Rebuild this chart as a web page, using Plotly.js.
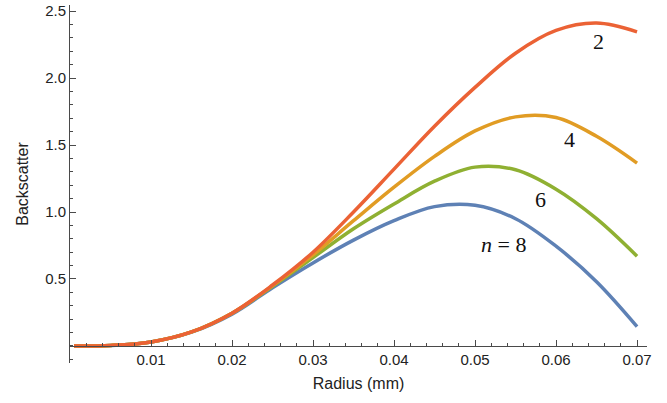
<!DOCTYPE html>
<html>
<head>
<meta charset="utf-8">
<script src="https://cdn.plot.ly/plotly-3.0.1.min.js"></script>
<style>html,body{margin:0;padding:0;background:#fff;}#chart{width:667px;height:403px;}</style>
</head>
<body>
<div id="chart"></div>
<script>
// Radius (mm) and backscatter for each n
const radius = [0.0005, 0.005, 0.01, 0.015, 0.02, 0.025, 0.03, 0.035, 0.04, 0.045, 0.05, 0.055, 0.06, 0.065, 0.07];
const n2 = [0.0, 0.004, 0.03, 0.105, 0.245, 0.455, 0.70, 1.00, 1.32, 1.64, 1.93, 2.185, 2.355, 2.41, 2.345];
const n4 = [0.0, 0.004, 0.03, 0.105, 0.245, 0.45, 0.68, 0.935, 1.185, 1.415, 1.605, 1.71, 1.705, 1.565, 1.365];
const n6 = [0.0, 0.004, 0.03, 0.105, 0.245, 0.445, 0.66, 0.875, 1.06, 1.23, 1.335, 1.315, 1.17, 0.95, 0.67];
const n8 = [0.0, 0.004, 0.03, 0.103, 0.238, 0.435, 0.62, 0.79, 0.935, 1.04, 1.05, 0.95, 0.745, 0.48, 0.145];

const xTickVals = [0.01, 0.02, 0.03, 0.04, 0.05, 0.06, 0.07];
const xTickText = ["0.01", "0.02", "0.03", "0.04", "0.05", "0.06", "0.07"];
const yTickVals = [0.5, 1.0, 1.5, 2.0, 2.5];
const yTickText = ["0.5", "1.0", "1.5", "2.0", "2.5"];

const labelText = ["2", "4", "6", "<i>n</i> = 8"];
const labelX = [0.0652, 0.0617, 0.0581, 0.0535];
const labelY = [2.27, 1.54, 1.09, 0.76];

const colors = {n2: "#EB6235", n4: "#E19C24", n6: "#8FB032", n8: "#5E81B5"};

function tr(y, c) {
  return {x: radius, y: y, type: "scatter", mode: "lines",
    line: {color: c, width: 3.5, shape: "spline", smoothing: 1.0},
    hoverinfo: "skip", showlegend: false};
}
const data = [tr(n8, colors.n8), tr(n6, colors.n6), tr(n4, colors.n4), tr(n2, colors.n2)];

const yMin = -0.127, yMax = 2.545;
const axisColor = "#4a4a4a";
const layout = {
  width: 667, height: 403,
  margin: {l: 70, r: 20, t: 5, b: 40},
  paper_bgcolor: "#fff", plot_bgcolor: "#fff",
  font: {family: "Liberation Sans, Arial, sans-serif", size: 15, color: "#222"},
  xaxis: {
    range: [0, 0.07123], anchor: "free", position: (0 - yMin) / (yMax - yMin),
    showgrid: false, zeroline: false, showline: true, linecolor: axisColor, linewidth: 1,
    ticks: "inside", ticklen: 6, tickcolor: axisColor, tickwidth: 1,
    tickvals: xTickVals, ticktext: xTickText,
    minor: {dtick: 0.002, tick0: 0, ticks: "inside", ticklen: 3, tickcolor: axisColor, showgrid: false},
    title: {text: "Radius (mm)", font: {size: 16}, standoff: 10}
  },
  yaxis: {
    range: [yMin, yMax],
    showgrid: false, zeroline: false, showline: true, linecolor: axisColor, linewidth: 1,
    ticks: "inside", ticklen: 6, tickcolor: axisColor, tickwidth: 1,
    tickvals: yTickVals, ticktext: yTickText,
    minor: {dtick: 0.1, tick0: 0, ticks: "inside", ticklen: 3, tickcolor: axisColor, showgrid: false},
    title: {text: "Backscatter", font: {size: 16}, standoff: 12}
  },
  annotations: labelText.map((t, i) => ({
    x: labelX[i], y: labelY[i], xref: "x", yref: "y", text: t, showarrow: false,
    font: {family: "Liberation Serif, Times New Roman, serif", size: 22, color: "#111"}
  }))
};
Plotly.newPlot("chart", data, layout, {displayModeBar: false, staticPlot: true});
</script>
</body>
</html>
